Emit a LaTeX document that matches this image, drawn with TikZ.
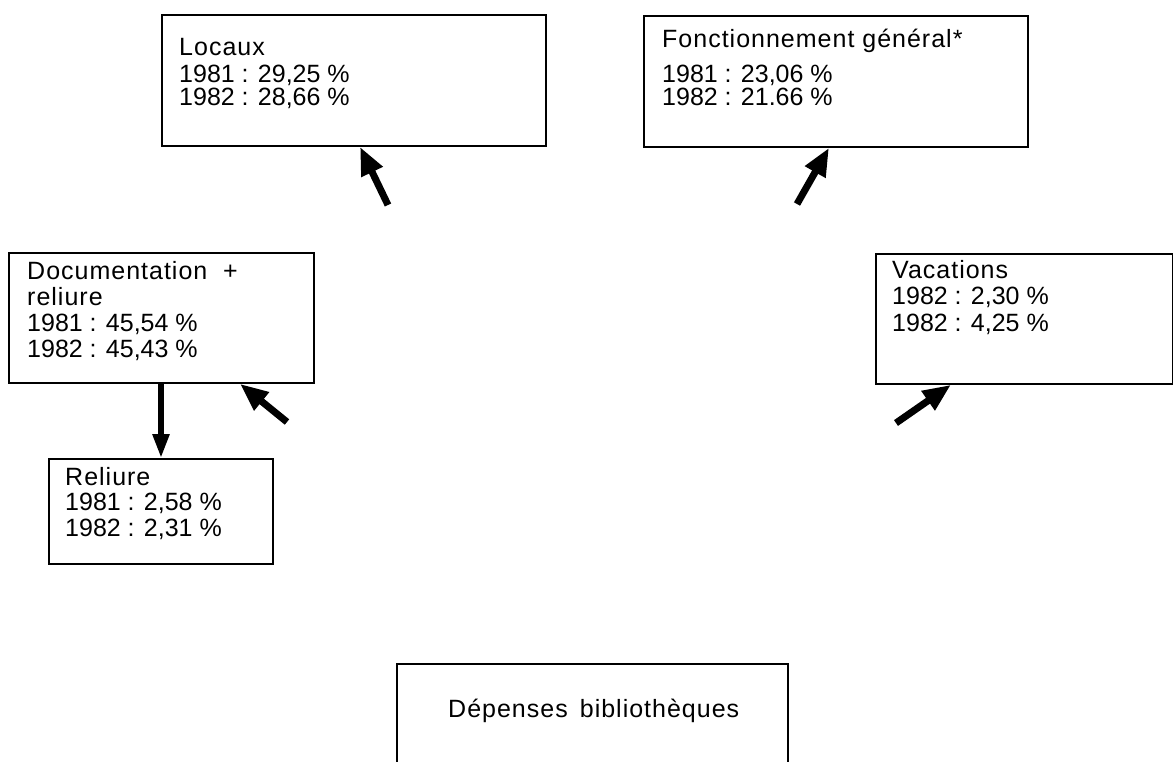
\documentclass[tikz,border=0pt]{standalone}
\usepackage{fontspec}
\setmainfont{Liberation Sans}
\newfontfamily\widefont[LetterSpace=4]{Liberation Sans}
\usetikzlibrary{arrows.meta}
\begin{document}
\begin{tikzpicture}[x=1pt,y=-1pt,
  box/.style={draw=black, line width=1.8pt, rectangle, inner sep=0pt, anchor=north west},
  txt/.style={anchor=north west, inner sep=0pt, align=left, font=\fontsize{25}{25}\selectfont},
  bigarrow/.style={line width=7pt, -{Triangle[length=28pt,width=22pt]}},
  downarrow/.style={line width=5.5pt, -{Triangle[length=24pt,width=16pt]}}]
\useasboundingbox (0,0) rectangle (1173,761);
\clip (0,0) rectangle (1173,761);
\fill[white] (0,0) rectangle (1173,761);

% boxes
\node[box, minimum width=384pt, minimum height=131pt] (loc) at (161,14) {};
\node[box, minimum width=384pt, minimum height=131pt] (fon) at (643,15) {};
\node[box, minimum width=305pt, minimum height=130pt] (doc) at (8,252) {};
\node[box, minimum width=297pt, minimum height=130pt] (vac) at (875,253) {};
\node[box, minimum width=224pt, minimum height=105pt] (rel) at (48,458) {};
\node[box, minimum width=391pt, minimum height=130pt] (dep) at (396,663) {};

% texts
\node[txt, font=\fontsize{25}{23}\selectfont] (loct) at (179,29)
  {\rule{0pt}{26pt}{\widefont Locaux}\\[4pt]1981 : 29,25 \%\\1982 : 28,66 \%};
\node[txt, font=\fontsize{25}{23}\selectfont] (font) at (662,21)
  {\rule{0pt}{26pt}{\widefont Fonctionnement général*}\\[12pt]1981 : 23,06 \%\\1982 : 21.66 \%};
\node[txt, font=\fontsize{25}{26}\selectfont] (doct) at (27,253)
  {\rule{0pt}{26pt}{\widefont Documentation \ +}\\{\widefont reliure}\\1981 : 45,54 \%\\1982 : 45,43 \%};
\node[txt, font=\fontsize{25}{26.5}\selectfont] (vact) at (892,252)
  {\rule{0pt}{26pt}{\widefont Vacations}\\1982 : 2,30 \%\\1982 : 4,25 \%};
\node[txt, font=\fontsize{25}{25.5}\selectfont] (relt) at (65,459)
  {\rule{0pt}{26pt}{\widefont Reliure}\\1981 : 2,58 \%\\1982 : 2,31 \%};
\node[txt, anchor=base west] (dept) at (448,717)
  {{\widefont Dépenses \,bibliothèques}};

% arrows
\coordinate (t1) at (388,205);
\coordinate (t2) at (797,204);
\coordinate (t4) at (287,422);
\coordinate (t5) at (896,423);
\draw[bigarrow] (t1) -- ([xshift=199pt]loc.south west);
\draw[bigarrow] (t2) -- ([xshift=186pt]fon.south west);
\draw[bigarrow] (t4) -- ([xshift=232pt]doc.south west);
\draw[bigarrow] (t5) -- ([xshift=76pt]vac.south west);
\draw[downarrow] ([xshift=153pt]doc.south west) -- ([xshift=113pt]rel.north west);
\end{tikzpicture}
\end{document}
